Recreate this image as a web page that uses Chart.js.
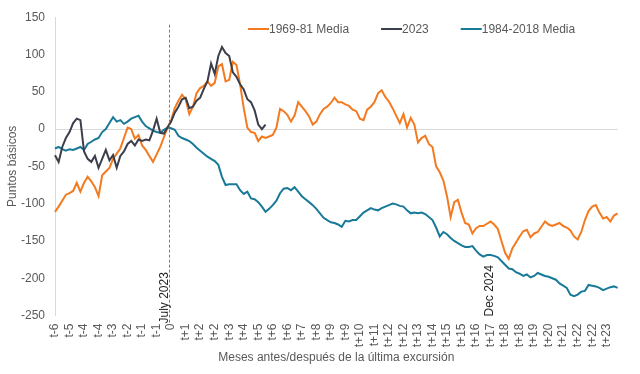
<!DOCTYPE html>
<html><head><meta charset="utf-8">
<script src="https://cdn.jsdelivr.net/npm/chart.js@4/dist/chart.umd.min.js"></script>
<style>html,body{margin:0;padding:0;background:#fff}#wrap{width:640px;height:374px}</style>
</head><body><div id="wrap"><canvas id="c" width="640" height="374"></canvas></div>
<script>
// ---- data ----
const tickLabels = ['t-6','t-5','t-4','t-4','t-3','t-2','t-1','t-1','0','t+1','t+2','t+2','t+3','t+4','t+5','t+6','t+6','t+7','t+8','t+9','t+9','t+10','t+11','t+12','t+12','t+13','t+14','t+15','t+15','t+16','t+17','t+18','t+18','t+19','t+20','t+21','t+22','t+22','t+23'];
const pointsPerTick = 4;
const seriesNames = ['1969-81 Media', '2023', '1984-2018 Media'];
const series1969 = [-111,-104,-96,-88,-86,-83,-72,-84,-72,-64,-70,-78,-90,-62,-57,-52,-40,-33,-26,-12,2,0,-13,-8,-22,-28,-36,-44,-34,-24,-11,2,12,28,38,46,40,20,30,48,55,58,64,58,62,84,87,64,66,90,86,60,28,2,-4,-5,-16,-10,-12,-10,-8,2,27,24,19,10,18,36,30,24,17,6,10,20,27,30,35,42,36,36,33,31,26,24,14,12,26,30,36,48,52,43,37,28,18,8,20,2,15,6,-18,-12,-9,-20,-24,-50,-58,-69,-90,-118,-98,-95,-112,-126,-128,-140,-133,-130,-130,-127,-124,-128,-134,-150,-166,-174,-160,-152,-144,-137,-135,-145,-140,-138,-131,-124,-128,-130,-128,-126,-130,-132,-136,-144,-148,-138,-122,-110,-104,-102,-112,-120,-118,-124,-116,-113];
const series2023 = [-35,-44,-24,-12,-4,8,14,12,-30,-40,-44,-36,-52,-40,-28,-42,-35,-52,-36,-30,-20,-16,-22,-14,-16,-14,-15,-2,14,-5,-6,2,10,22,30,40,42,28,30,38,42,54,64,88,74,98,110,102,98,76,70,60,53,40,36,25,6,0,6];
const series1984 = [-26,-24,-27,-29,-27,-28,-26,-24,-28,-20,-17,-14,-12,-4,0,8,16,10,12,7,10,14,16,18,10,4,1,-2,-4,-5,-1,2,1,-1,-9,-12,-14,-16,-20,-25,-29,-33,-37,-40,-43,-48,-64,-75,-74,-74,-74,-82,-87,-84,-93,-94,-98,-104,-111,-107,-102,-96,-86,-80,-79,-82,-78,-84,-90,-94,-98,-102,-107,-113,-119,-122,-125,-126,-128,-131,-123,-124,-122,-122,-117,-112,-109,-106,-108,-109,-106,-104,-102,-100,-101,-103,-104,-109,-113,-112,-113,-112,-114,-118,-122,-132,-144,-138,-141,-146,-150,-153,-156,-158,-158,-157,-163,-168,-171,-169,-169,-170,-172,-177,-182,-187,-188,-192,-194,-197,-195,-199,-197,-193,-195,-197,-198,-200,-202,-207,-210,-213,-222,-224,-222,-218,-217,-209,-210,-211,-213,-216,-214,-212,-211,-213];
const yTicks = [150, 100, 50, 0, -50, -100, -150, -200, -250];
const markerLabels = ['July 2023', 'Dec 2024'];
const markerTicks = [8, 30];
const markerLineTop = 140;

// ---- build ----
const categories = series1969.map((v, i) => (i % pointsPerTick === 0 ? (tickLabels[i / pointsPerTick] || '') : ''));
const colors = ['#F47A20', '#3B3E4B', '#187A98'];
const FONT = "'Liberation Sans', Arial, sans-serif";
const GREY = '#595959';

const legendPlugin = {
  id: 'customLegend',
  afterDraw(chart) {
    const ctx = chart.ctx;
    ctx.save();
    ctx.font = '12px ' + FONT;
    ctx.textBaseline = 'middle';
    ctx.textAlign = 'left';
    let x = 248;
    const y = 29;
    seriesNames.forEach((name, k) => {
      ctx.strokeStyle = colors[k];
      ctx.lineWidth = 2;
      ctx.beginPath(); ctx.moveTo(x, y); ctx.lineTo(x + 21, y); ctx.stroke();
      ctx.fillStyle = GREY;
      ctx.fillText(name, x + 21, y + 0.5);
      x += 21 + ctx.measureText(name).width + 32;
    });
    ctx.restore();
  }
};

const markerPlugin = {
  id: 'markers',
  afterDatasetsDraw(chart) {
    const ctx = chart.ctx;
    const xs = chart.scales.x, ys = chart.scales.y;
    ctx.save();
    const lx = Math.round(xs.getPixelForValue(markerTicks[0] * pointsPerTick)) - 1.5;
    ctx.strokeStyle = '#7F7F7F';
    ctx.lineWidth = 1;
    ctx.setLineDash([3, 2]);
    ctx.beginPath();
    ctx.moveTo(lx, ys.getPixelForValue(markerLineTop));
    ctx.lineTo(lx, ys.getPixelForValue(-250) + 8);
    ctx.stroke();
    ctx.setLineDash([]);
    ctx.font = '12px ' + FONT;
    ctx.fillStyle = '#262626';
    ctx.textAlign = 'left';
    ctx.textBaseline = 'middle';
    markerLabels.forEach((t, k) => {
      const px = xs.getPixelForValue(markerTicks[k] * pointsPerTick);
      const cx = k === 0 ? lx - 5 : px - 1;
      const by = ys.getPixelForValue(-250) + (k === 0 ? 8 : 1);
      ctx.save();
      ctx.translate(cx, by);
      ctx.rotate(-Math.PI / 2);
      ctx.fillText(t, 0, 0);
      ctx.restore();
    });
    ctx.restore();
  }
};

new Chart(document.getElementById('c'), {
  type: 'line',
  data: {
    labels: categories,
    datasets: [
      { label: seriesNames[1], data: series2023, borderColor: colors[1], borderWidth: 2, pointRadius: 0, tension: 0, fill: false },
      { label: seriesNames[0], data: series1969, borderColor: colors[0], borderWidth: 2, pointRadius: 0, tension: 0, fill: false },
      { label: seriesNames[2], data: series1984, borderColor: colors[2], borderWidth: 2, pointRadius: 0, tension: 0, fill: false }
    ]
  },
  options: {
    responsive: false,
    animation: false,
    devicePixelRatio: 1,
    layout: { padding: { left: 0, right: 18, top: 16, bottom: 0 } },
    plugins: { legend: { display: false }, tooltip: { enabled: false } },
    scales: {
      x: {
        type: 'category',
        offset: false,
        grid: { display: false, drawTicks: false },
        border: { display: false },
        ticks: {
          autoSkip: false, minRotation: 90, maxRotation: 90, padding: 8,
          color: GREY, font: { family: FONT, size: 12 },
          callback: function (v, i) { return categories[i]; }
        },
        title: { display: true, text: 'Meses antes/después de la última excursión', color: GREY, font: { family: FONT, size: 12 }, padding: { top: 0, bottom: 9 } },
        afterFit(s) { s.height = 58.5; }
      },
      y: {
        min: -250, max: 150,
        afterBuildTicks(s) { s.ticks = yTicks.map(v => ({ value: v })); },
        grid: { drawTicks: false, color: c => (c.tick && c.tick.value === 0 ? '#D9D9D9' : 'rgba(0,0,0,0)'), lineWidth: 1 },
        border: { display: true, color: '#D9D9D9' },
        ticks: { padding: 10, color: GREY, font: { family: FONT, size: 12 } },
        title: { display: true, text: 'Puntos básicos', color: GREY, font: { family: FONT, size: 12 }, padding: { top: 5, bottom: 0 } },
        afterFit(s) { s.width = 55; }
      }
    }
  },
  plugins: [legendPlugin, markerPlugin]
});
</script>
</body></html>
